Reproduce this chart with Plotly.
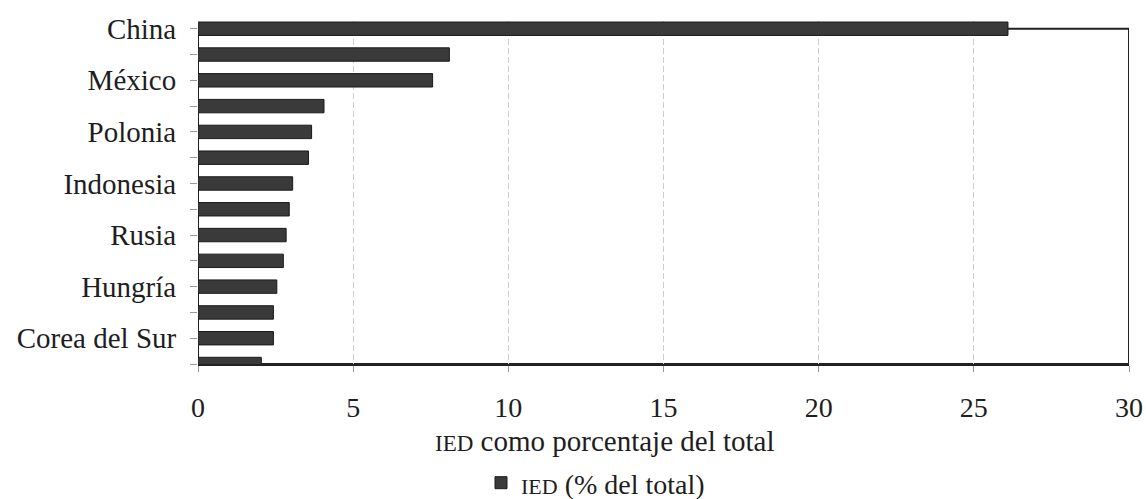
import plotly.graph_objects as go

# Data
labels = ["China", "", "México", "", "Polonia", "", "Indonesia", "",
          "Rusia", "", "Hungría", "", "Corea del Sur", ""]
values = [26.1, 8.1, 7.56, 4.06, 3.66, 3.56, 3.05, 2.94,
          2.84, 2.75, 2.54, 2.43, 2.43, 2.04]
x_ticks = [0, 5, 10, 15, 20, 25, 30]
series_name = "<span style='font-size:22px'>IED</span> (% del total)"
x_title = "<span style='font-size:23px'>IED</span> como porcentaje del total"

positions = list(range(len(values)))
FONT = "Liberation Serif"
TXT = "#1e1e1e"

fig = go.Figure()
fig.add_trace(go.Bar(
    x=values, y=positions, orientation="h",
    name=series_name,
    marker=dict(color="#3a3a3a", line=dict(color="#1a1a1a", width=1)),
    width=0.52,
    showlegend=True,
))

n = len(values)
# frame of the plot (top/right/bottom/left), drawn at first/last category
fig.add_shape(type="rect", xref="x", yref="y", x0=0, x1=30, y0=0, y1=n - 1,
              line=dict(color="#222", width=2), layer="below")

# x-axis title (placed left of centre as in the reference)
fig.add_annotation(text=x_title, xref="paper", yref="paper",
                   x=(605 - 198) / 931, y=(364 - 441) / 343,
                   xanchor="center", yanchor="middle", showarrow=False,
                   font=dict(size=29, family=FONT, color=TXT))

W, H = 1146, 499
fig.update_layout(
    width=W, height=H,
    margin=dict(l=198, r=17, t=21, b=135, autoexpand=False),
    paper_bgcolor="white", plot_bgcolor="white",
    font=dict(family=FONT, color=TXT, size=28),
    showlegend=True,
    legend=dict(orientation="h", x=(481 - 198) / 931, xanchor="left",
                yref="container", y=(H - 483) / H, yanchor="middle",
                font=dict(size=28, family=FONT, color=TXT),
                bgcolor="rgba(0,0,0,0)", itemwidth=30),
    xaxis=dict(
        range=[0, 30], tickvals=x_ticks, ticktext=[str(t) for t in x_ticks],
        showgrid=True, gridcolor="#cdcdcd", gridwidth=1, griddash="6px,3px",
        zeroline=False, automargin=False,
        showline=True, linecolor="#222", linewidth=2,
        ticks="outside", ticklen=6, tickcolor="#999", tickwidth=1,
        tickfont=dict(size=28, family=FONT, color=TXT),
        ticklabelstandoff=11,
    ),
    yaxis=dict(
        range=[n - 1, -0.3], automargin=False,
        tickvals=positions, ticktext=labels,
        showgrid=False, zeroline=False,
        showline=False,
        ticks="outside", ticklen=7, tickcolor="#999", tickwidth=1,
        tickfont=dict(size=29, family=FONT, color=TXT),
        ticklabelstandoff=8,
    ),
)

fig.write_html("out.html",
               config={"displayModeBar": False},
               post_script="document.body.style.margin='0';"
                           "document.body.style.overflow='hidden';")
